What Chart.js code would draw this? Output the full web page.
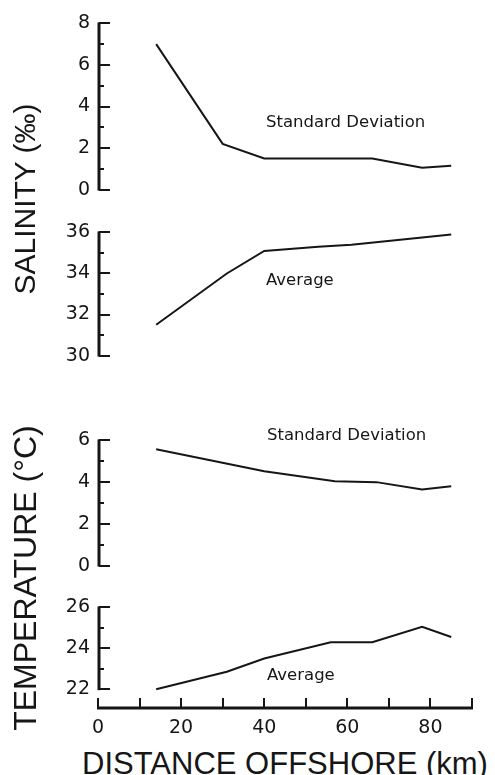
<!DOCTYPE html>
<html>
<head>
<meta charset="utf-8">
<title>Salinity and temperature offshore</title>
<script src="https://cdn.jsdelivr.net/npm/chart.js@4.4.0/dist/chart.umd.min.js"></script>
<style>
  html, body { margin: 0; padding: 0; background: #fff; }
  body { width: 495px; height: 775px; position: relative; overflow: hidden; font-family: "DejaVu Sans", sans-serif; color: #161616; }
  .panel { position: absolute; left: 0; width: 495px; }
  .note { position: absolute; font-size: 16.5px; line-height: 1; white-space: nowrap; }
  .ytitle { position: absolute; font-family: "Liberation Sans", sans-serif; font-size: 30px; line-height: 1; white-space: nowrap; transform: translate(-50%, -50%) rotate(-90deg); }
  .xtitle { position: absolute; left: 285px; top: 763px; font-family: "Liberation Sans", sans-serif; font-size: 31px; line-height: 1; white-space: nowrap; transform: translate(-50%, -50%); }
</style>
</head>
<body>
<div class="panel" style="top:4px;height:205px"><canvas id="salSdChart"></canvas></div>
<div class="panel" style="top:213px;height:162px"><canvas id="salAvgChart"></canvas></div>
<div class="panel" style="top:421px;height:164px"><canvas id="tempSdChart"></canvas></div>
<div class="panel" style="top:588px;height:148px"><canvas id="tempAvgChart"></canvas></div>

<div class="ytitle" style="left:25px;top:199px">SALINITY (‰)</div>
<div class="ytitle" style="left:25px;top:578px;font-size:32px">TEMPERATURE (°C)</div>
<div class="xtitle">DISTANCE OFFSHORE (km)</div>

<div class="note" style="left:266px;top:114px">Standard Deviation</div>
<div class="note" style="left:266px;top:272px">Average</div>
<div class="note" style="left:267px;top:427px">Standard Deviation</div>
<div class="note" style="left:267px;top:667px">Average</div>

<script>
const INK = "#161616";

// distance offshore (km) and values
const salSdKm = [14, 30, 40, 66, 78, 85];
const salSd = [7.0, 2.2, 1.5, 1.5, 1.05, 1.15];

const salAvgKm = [14, 31, 40, 53, 61, 78, 85];
const salAvg = [31.5, 34.0, 35.1, 35.3, 35.4, 35.75, 35.9];

const tempSdKm = [14, 40, 57, 67, 78, 85];
const tempSd = [5.58, 4.52, 4.04, 4.0, 3.65, 3.8];

const tempAvgKm = [14, 31, 40, 56, 66, 78, 85];
const tempAvg = [22.0, 22.85, 23.5, 24.3, 24.3, 25.05, 24.55];

// tick labels
const salSdTicks = [0, 2, 4, 6, 8];
const salAvgTicks = [30, 32, 34, 36];
const tempSdTicks = [0, 2, 4, 6];
const tempAvgTicks = [22, 24, 26];
const kmTicks = [0, 20, 40, 60, 80];

// axis line + inward tick marks, like the original drafting
const inwardAxes = {
  id: "inwardAxes",
  afterDraw(chart, args, opts) {
    const { ctx, chartArea } = chart;
    const y = chart.scales.y, x = chart.scales.x;
    const left = chartArea.left + 1;
    ctx.save();
    ctx.strokeStyle = INK;
    ctx.lineCap = "butt";
    ctx.lineWidth = 3;
    ctx.beginPath();
    ctx.moveTo(left, y.getPixelForValue(opts.top) - 1);
    ctx.lineTo(left, y.getPixelForValue(opts.bottom) + 1);
    ctx.stroke();
    ctx.lineWidth = 2;
    for (let v = opts.bottom; v <= opts.top; v++) {
      const py = Math.round(y.getPixelForValue(v));
      const len = (v - opts.bottom) % 2 === 0 ? 11 : 5;
      ctx.beginPath();
      ctx.moveTo(left, py);
      ctx.lineTo(left + len, py);
      ctx.stroke();
    }
    if (opts.xAxis) {
      const by = chartArea.bottom;
      ctx.lineWidth = 3;
      ctx.beginPath();
      ctx.moveTo(x.getPixelForValue(0) - 1, by);
      ctx.lineTo(x.getPixelForValue(90) + 1, by);
      ctx.stroke();
      ctx.lineWidth = 2;
      for (let v = 0; v <= 90; v += 10) {
        const px = Math.round(x.getPixelForValue(v));
        ctx.beginPath();
        ctx.moveTo(px, by);
        ctx.lineTo(px, by - 10);
        ctx.stroke();
      }
    }
    ctx.restore();
  }
};

function makePanel(id, km, vals, ticks, yMin, yMax, withX) {
  const ctx = document.getElementById(id).getContext("2d");
  return new Chart(ctx, {
    type: "line",
    data: {
      datasets: [{
        data: km.map((k, i) => ({ x: k, y: vals[i] })),
        borderColor: INK,
        borderWidth: 2,
        pointRadius: 0,
        tension: 0,
        fill: false
      }]
    },
    options: {
      responsive: true,
      maintainAspectRatio: false,
      animation: false,
      layout: { padding: { top: 10, bottom: withX ? 0 : 10, left: 0, right: 23 } },
      plugins: {
        legend: { display: false },
        tooltip: { enabled: false },
        inwardAxes: { bottom: ticks[0], top: ticks[ticks.length - 1], xAxis: withX }
      },
      scales: {
        x: {
          type: "linear",
          min: 0,
          max: 90,
          display: withX,
          afterBuildTicks: axis => { axis.ticks = kmTicks.map(v => ({ value: v })); },
          afterFit: s => { s.height = withX ? 28 : 0; },
          grid: { display: false, drawTicks: false },
          border: { display: false },
          ticks: { autoSkip: false, maxRotation: 0, padding: 9, color: INK, font: { family: "DejaVu Sans", size: 19 } }
        },
        y: {
          min: yMin,
          max: yMax,
          afterBuildTicks: axis => { axis.ticks = ticks.map(v => ({ value: v })); },
          afterFit: s => { s.width = 98; },
          grid: { display: false, drawTicks: false },
          border: { display: false },
          ticks: { autoSkip: false, padding: 8, color: INK, font: { family: "DejaVu Sans", size: 19 } }
        }
      }
    },
    plugins: [inwardAxes]
  });
}

makePanel("salSdChart", salSdKm, salSd, salSdTicks, 0, 8, false);
makePanel("salAvgChart", salAvgKm, salAvg, salAvgTicks, 30, 36, false);
makePanel("tempSdChart", tempSdKm, tempSd, tempSdTicks, 0, 6, false);
// bottom panel: the x axis sits ~19px below the 22 mark, so the range runs a bit under 22
makePanel("tempAvgChart", tempAvgKm, tempAvg, tempAvgTicks, 21.08, 26, true);
</script>
</body>
</html>
